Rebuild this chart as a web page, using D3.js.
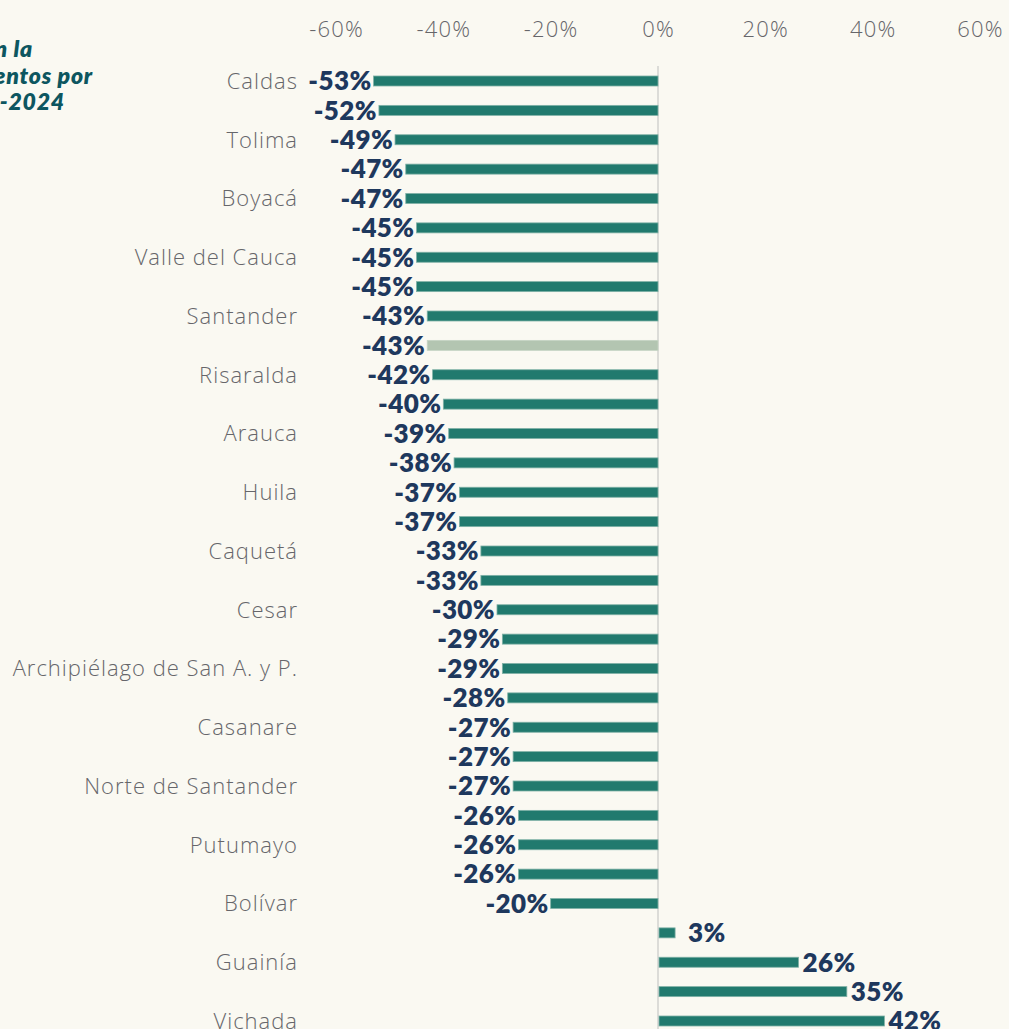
<!DOCTYPE html>
<html><head><meta charset="utf-8">
<script src="https://cdn.jsdelivr.net/npm/d3@7/dist/d3.min.js"></script>
<style>
html,body{margin:0;padding:0;background:#faf9f2;overflow:hidden;}
svg{display:block;}
</style></head>
<body>
<svg id="chart" width="1009" height="1029"></svg>
<script>
// Labels shown in the chart (every other row is unlabeled in the reference)
const categories = ["Caldas","","Tolima","","Boyacá","","Valle del Cauca","","Santander","","Risaralda","","Arauca","","Huila","","Caquetá","","Cesar","","Archipiélago de San A. y P.","","Casanare","","Norte de Santander","","Putumayo","","Bolívar","","Guainía","","Vichada"];
const values = [-53,-52,-49,-47,-47,-45,-45,-45,-43,-43,-42,-40,-39,-38,-37,-37,-33,-33,-30,-29,-29,-28,-27,-27,-27,-26,-26,-26,-20,3,26,35,42];
const highlighted = [9];
const tickValues = [-60,-40,-20,0,20,40,60];
const titleLines = ["Variación en la","de los departamentos por","2019-2024"];

const svg = d3.select("#chart");
const W = 1009, H = 1029;

const x = d3.scaleLinear().domain([-60,60]).range([336,980]);
const y = d3.scalePoint().domain(d3.range(values.length)).range([81,1021]);
const barH = 10;

// title (cut off on the left, as in the reference)
const titleEnds = [33,93,65];
const titleY = [57,84,110];
svg.append("g").selectAll("text").data(titleLines).join("text")
  .attr("x",(d,i)=>titleEnds[i]).attr("y",(d,i)=>titleY[i])
  .attr("text-anchor","end")
  .attr("font-family","Lato, 'Open Sans', sans-serif")
  .attr("font-weight",800).attr("font-style","italic")
  .attr("font-size",23).attr("letter-spacing",0.8).attr("fill","#0d5660")
  .text(d=>d);

// top axis
const axis = d3.axisTop(x).tickValues(tickValues).tickSize(0).tickFormat(d=>d+"%");
const ag = svg.append("g").attr("transform","translate(0,40)").call(axis);
ag.select(".domain").remove();
ag.selectAll("text")
  .attr("font-family","'Open Sans', sans-serif").attr("font-weight",300)
  .attr("font-size",22).attr("letter-spacing",1.2).attr("fill","#66666a");

// zero line
svg.append("line")
  .attr("x1",x(0)).attr("x2",x(0)).attr("y1",66).attr("y2",H)
  .attr("stroke","#dcdcd8").attr("stroke-width",2);

// bars
svg.append("g").selectAll("rect").data(values).join("rect")
  .attr("x",d=>Math.min(x(0)+1,x(d)))
  .attr("width",d=>Math.abs(x(d)-x(0)))
  .attr("y",(d,i)=>y(i)-barH/2).attr("height",barH)
  .attr("fill",(d,i)=>highlighted.includes(i)?"#b3c5b1":"#217a6e")
  .attr("stroke",(d,i)=>highlighted.includes(i)?"#c6d5c4":"#7fb1a6")
  .attr("stroke-width",0.8);

// value labels
svg.append("g").selectAll("text").data(values).join("text")
  .attr("x",d=>d<0? x(d)-2 : Math.max(x(d),x(0)+25)+5)
  .attr("y",(d,i)=>y(i)).attr("dy","0.36em")
  .attr("text-anchor",d=>d<0?"end":"start")
  .attr("font-family","Lato, 'Open Sans', sans-serif").attr("font-weight",800)
  .attr("font-size",26).attr("letter-spacing",0.4).attr("fill","#1e385d")
  .text(d=>d+"%");

// category labels
svg.append("g").selectAll("text").data(categories).join("text")
  .attr("x",298).attr("y",(d,i)=>y(i)).attr("dy","0.36em")
  .attr("text-anchor","end")
  .attr("font-family","'Open Sans', sans-serif").attr("font-weight",300)
  .attr("font-size",22).attr("letter-spacing",1).attr("fill","#66666a")
  .text(d=>d);
</script>
</body></html>
